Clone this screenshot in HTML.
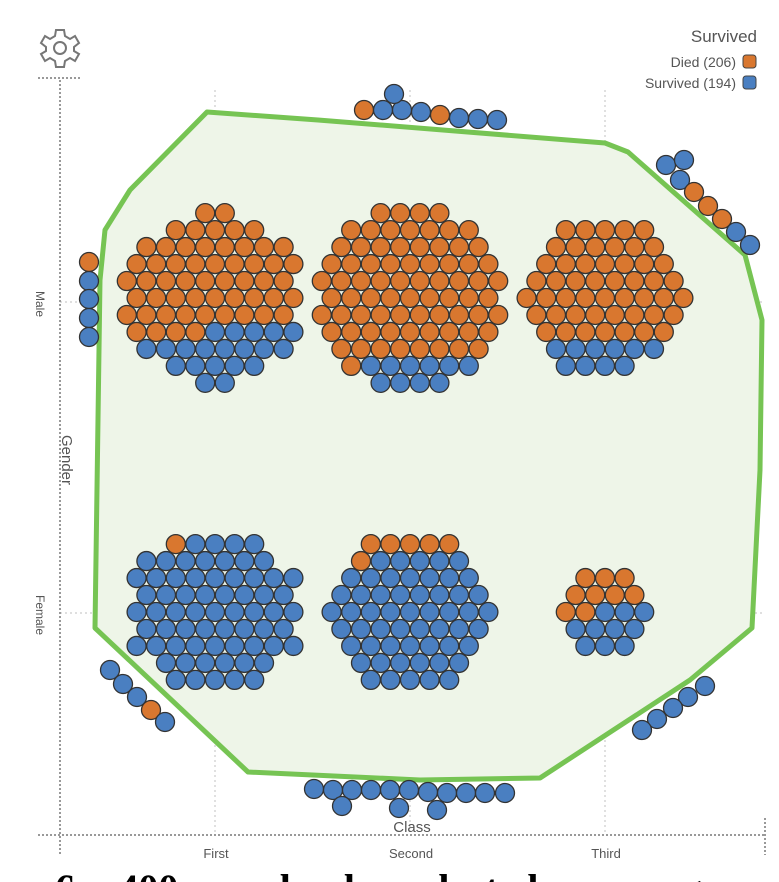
<!DOCTYPE html>
<html><head><meta charset="utf-8"><style>
html,body{margin:0;padding:0;background:#fff;width:779px;height:882px;overflow:hidden;font-family:"Liberation Sans",sans-serif}
</style></head><body>
<svg id="chart" width="779" height="882" viewBox="0 0 779 882" xmlns="http://www.w3.org/2000/svg">
<g stroke="#ccc" stroke-dasharray="2,3" stroke-width="1.2">
<line x1="215" y1="90" x2="215" y2="835"/><line x1="410" y1="90" x2="410" y2="835"/><line x1="605" y1="90" x2="605" y2="835"/>
<line x1="60" y1="302" x2="765" y2="302"/><line x1="60" y1="613" x2="765" y2="613"/>
</g>
<polygon points="207,112 318,120 605,143 628,152 745,255 762,320 760,470 752,628 690,680 540,778 420,780 248,772 95,628 100,280 105,230 130,190" fill="#eef5e8" stroke="#76c453" stroke-width="5" stroke-linejoin="round"/>
<g stroke="#999" stroke-dasharray="2,2" stroke-width="2">
<line x1="60" y1="80" x2="60" y2="855"/><line x1="38" y1="835" x2="765" y2="835"/><line x1="765" y1="818" x2="765" y2="855"/><line x1="38" y1="78" x2="80" y2="78"/>
</g>
<g id="marks"></g>
<g font-size="13" fill="#555">
<text x="216" y="858" text-anchor="middle">First</text>
<text x="411" y="858" text-anchor="middle">Second</text>
<text x="606" y="858" text-anchor="middle">Third</text>
<text x="412" y="832" text-anchor="middle" font-size="15">Class</text>
<text transform="translate(36,304) rotate(90)" text-anchor="middle" font-size="12">Male</text>
<text transform="translate(36,615) rotate(90)" text-anchor="middle" font-size="12">Female</text>
<text transform="translate(62,460) rotate(90)" text-anchor="middle" font-size="15">Gender</text>
</g>
<g font-size="14" fill="#555">
<text x="757" y="42" text-anchor="end" font-size="17">Survived</text>
<text x="736" y="67" text-anchor="end">Died (206)</text>
<rect x="743" y="55" width="13" height="13" rx="3" fill="#d9772f" stroke="#444"/>
<text x="736" y="88" text-anchor="end">Survived (194)</text>
<rect x="743" y="76" width="13" height="13" rx="3" fill="#4a7fc1" stroke="#444"/>
</g>
<g transform="translate(60,48)" fill="none" stroke="#777" stroke-width="2">
<circle r="6"/>
<path d="M-4,-18 L4,-18 L5,-12 L10,-9 L15,-12 L19,-5 L14,-1 L14,3 L19,6 L15,13 L10,10 L5,13 L4,19 L-4,19 L-5,13 L-10,10 L-15,13 L-19,6 L-14,3 L-14,-1 L-19,-5 L-15,-12 L-10,-9 L-5,-12 Z"/>
</g>
<text x="55" y="902" font-family="'Liberation Serif',serif" font-weight="bold" font-size="40" fill="#000" word-spacing="20">6: 400 randomly selected passengers by class</text>
</svg>
<script>
const classes=["First","Second","Third"];
const genders=["Male","Female"];
const diedCounts=[[55,75,50],[1,6,9]];
const survivedCounts=[[20,10,10],[65,55,10]];
const xPos={First:215,Second:410,Third:605};
const yPos={Male:298,Female:612};
function xScale(c){return xPos[c];}
function yScale(g){return yPos[g];}
const COL={d:"#d9772f",s:"#4a7fc1"};
const R=9.5,S=19.6;
const marks=document.getElementById('marks');
function dot(x,y,t){
  const c=document.createElementNS("http://www.w3.org/2000/svg","circle");
  c.setAttribute('cx',x);c.setAttribute('cy',y);c.setAttribute('r',R);
  c.setAttribute('fill',COL[t]);c.setAttribute('stroke','#333');c.setAttribute('stroke-width','1.3');
  
  
  marks.appendChild(c);
}
genders.forEach((g,gi)=>classes.forEach((c,ci)=>{
  const nd=diedCounts[gi][ci],ns=survivedCounts[gi][ci],n=nd+ns;
  const cx=xScale(c),cy=yScale(g);
  let pts=[];
  for(let r=-12;r<=12;r++)for(let q=-12;q<=12;q++){
    const x=q*S+(r%2?S/2:0),y=r*S*0.866;
    pts.push([x,y,Math.hypot(x,y*1.05)+(x*0.001)]);
  }
  pts.sort((a,b)=>a[2]-b[2]);
  pts=pts.slice(0,n).sort((a,b)=>a[1]-b[1]||a[0]-b[0]);
  pts.forEach((p,i)=>dot(cx+p[0],cy+p[1],i<nd?'d':'s'));
}));
const outlierTypes=["d","s","s","s","d","s","s","s","s",
"s","s","s","d","d","d","s","s",
"d","s","s","s","s",
"s","s","s","d","s",
"s","s","s","s","s",
"s","s","s","s","s","s","s","s","s","s","s","s","s","s"];
const outlierPos=[[364,110],[383,110],[402,110],[421,112],[440,115],[459,118],[478,119],[497,120],[394,94],
[666,165],[684,160],[680,180],[694,192],[708,206],[722,219],[736,232],[750,245],
[89,262],[89,281],[89,299],[89,318],[89,337],
[110,670],[123,684],[137,697],[151,710],[165,722],
[705,686],[688,697],[673,708],[657,719],[642,730],
[314,789],[333,790],[352,790],[371,790],[390,790],[409,790],[428,792],[447,793],[466,793],[485,793],[505,793],[342,806],[399,808],[437,810]];
outlierPos.forEach((p,i)=>dot(p[0],p[1],outlierTypes[i]||'s'));
</script>
</body></html>
